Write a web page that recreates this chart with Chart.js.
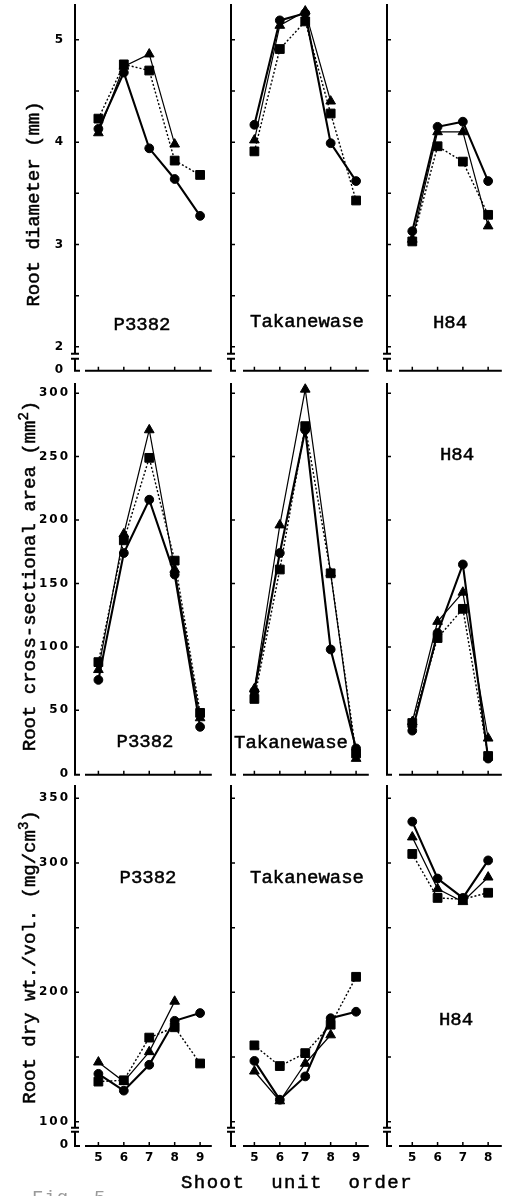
<!DOCTYPE html>
<html>
<head>
<meta charset="utf-8">
<script src="https://cdn.jsdelivr.net/npm/chart.js@4.4.0/dist/chart.umd.min.js"></script>
<style>
  html, body { margin: 0; padding: 0; background: #fff; }
  body { position: relative; width: 506px; height: 1196px; overflow: hidden; }
  canvas { position: absolute; }
  .t {
    position: absolute; font-family: "Liberation Mono", "DejaVu Sans Mono", monospace;
    font-size: 19px; line-height: 1; color: #000; white-space: pre;
    -webkit-text-stroke: 0.5px #000; transform: translate(-50%, -50%);
  }
  .yt { transform: translate(-50%, -50%) rotate(-90deg); }
  .t sup { font-size: 14px; vertical-align: 7px; line-height: 0; }
  .fig { color: #9a9a9a; -webkit-text-stroke: 0; transform: none; letter-spacing: 1px; }
</style>
</head>
<body>
<div id="wrap"></div>
<div class="t yt" style="left:34px; top:204px;">Root diameter (mm)</div>
<div class="t yt" style="left:30px; top:576px;">Root cross-sectional area (mm<sup>2</sup>)</div>
<div class="t yt" style="left:30px; top:957px;">Root dry wt./vol. (mg/cm<sup>3</sup>)</div>
<div class="t" style="left:297px; top:1183px; letter-spacing:1.5px;">Shoot  unit  order</div>
<div class="t fig" style="left:32px; top:1189px;">Fig. 5.</div>

<script>
// Shoot unit orders on the x axis
const shootOrder = [5, 6, 7, 8, 9];
const shootOrderH84 = [5, 6, 7, 8];
const cultivars = ['P3382', 'Takanewase', 'H84'];

// Root diameter (mm): circle, square, triangle series per cultivar
const diamP3382Circle   = [4.13, 4.68, 3.94, 3.64, 3.28];
const diamP3382Square   = [4.23, 4.76, 4.70, 3.82, 3.68];
const diamP3382Triangle = [4.09, 4.74, 4.86, 3.98, null];
const diamTakaCircle    = [4.17, 5.19, 5.26, 3.99, 3.62];
const diamTakaSquare    = [3.91, 4.91, 5.18, 4.28, 3.43];
const diamTakaTriangle  = [4.02, 5.14, 5.28, 4.40, null];
const diamH84Circle     = [3.13, 4.15, 4.20, 3.62];
const diamH84Square     = [3.03, 3.96, 3.81, 3.29];
const diamH84Triangle   = [3.05, 4.10, 4.10, 3.18];

// Root cross-sectional area (mm2)
const areaP3382Circle   = [74, 174, 216, 157, 37];
const areaP3382Square   = [88, 184, 249, 168, 48];
const areaP3382Triangle = [82, 189, 271, 161, 44];
const areaTakaCircle    = [65, 174, 271, 98, 20];
const areaTakaSquare    = [59, 161, 274, 158, 16];
const areaTakaTriangle  = [67, 196, 303, 158, 12];
const areaH84Circle     = [34, 111, 165, 12];
const areaH84Square     = [40, 107, 130, 14];
const areaH84Triangle   = [41, 120, 143, 28];

// Root dry weight per volume (mg/cm3)
const densP3382Circle   = [137, 124, 144, 178, 184];
const densP3382Square   = [131, 132, 165, 173, 145];
const densP3382Triangle = [146, 131, 154, 193, null];
const densTakaCircle    = [147, 117, 135, 180, 185];
const densTakaSquare    = [159, 143, 153, 175, 212];
const densTakaTriangle  = [139, 116, 145, 167, null];
const densH84Circle     = [332, 288, 273, 302];
const densH84Square     = [307, 273, 272, 277];
const densH84Triangle   = [320, 280, 270, 289];

// Y-axis ticks and their labels
const diamTicks  = [2, 2.5, 3, 3.5, 4, 4.5, 5];
const diamLabels = [2, 3, 4, 5];
const areaTicks  = [50, 100, 150, 200, 250, 300];
const areaLabels = [50, 100, 150, 200, 250, 300];
const densTicks  = [100, 150, 200, 250, 300, 350];
const densLabels = [100, 200, 300, 350];

// Page geometry of the 3 x 3 panel grid (pixels)
const cols = [
  { axisX: 75,  right: 215, xMin: 4.08, xMax: 9.46, gap: 10, padL: 60 },
  { axisX: 231, right: 372, xMin: 4.08, xMax: 9.50, gap: 12, padL: 12 },
  { axisX: 387, right: 505, xMin: 4.00, xMax: 8.54, gap: 12, padL: 12 }
];
const rows = [
  { top: 4,   bottom: 372,  yMin: 1.766, yMax: 5.35,  ticks: diamTicks, labels: diamLabels, breakAt: 2,    breakGap: [7, 12], labelGap: 12, padB: 6 },
  { top: 383, bottom: 776,  yMin: -0.8,  yMax: 308,   ticks: areaTicks, labels: areaLabels, breakAt: null, breakGap: null,    labelGap: 7,  padB: 6 },
  { top: 785, bottom: 1146, yMin: 81.2,  yMax: 360.3, ticks: densTicks, labels: densLabels, breakAt: 100,  breakGap: [6, 10], labelGap: 7,  padB: 26 }
];
const panelNames = [
  [{ x: 142, y: 325 }, { x: 307, y: 322 }, { x: 450, y: 323 }],
  [{ x: 145, y: 742 }, { x: 291, y: 743 }, { x: 457, y: 455 }],
  [{ x: 148, y: 878 }, { x: 307, y: 878 }, { x: 456, y: 1020 }]
];

const panelData = [
  [[diamP3382Circle, diamP3382Square, diamP3382Triangle],
   [diamTakaCircle, diamTakaSquare, diamTakaTriangle],
   [diamH84Circle, diamH84Square, diamH84Triangle]],
  [[areaP3382Circle, areaP3382Square, areaP3382Triangle],
   [areaTakaCircle, areaTakaSquare, areaTakaTriangle],
   [areaH84Circle, areaH84Square, areaH84Triangle]],
  [[densP3382Circle, densP3382Square, densP3382Triangle],
   [densTakaCircle, densTakaSquare, densTakaTriangle],
   [densH84Circle, densH84Square, densH84Triangle]]
];

const TICK_FONT = 'bold 12px "DejaVu Sans", sans-serif';

// Draws the broken y axis, the detached x axis, inward tick marks and tick labels
const axisFrame = {
  id: 'axisFrame',
  beforeDatasetsDraw(chart, args, o) {
    const { ctx, chartArea: a, scales: { x, y } } = chart;
    const ax = a.left, bot = a.bottom;
    ctx.save();
    ctx.strokeStyle = '#000';
    ctx.fillStyle = '#000';
    ctx.lineWidth = 2;
    ctx.beginPath();
    if (o.breakAt != null) {
      const yb = y.getPixelForValue(o.breakAt);
      const b1 = yb + o.breakGap[0], b2 = yb + o.breakGap[1];
      ctx.moveTo(ax, a.top); ctx.lineTo(ax, b1);
      ctx.moveTo(ax - 4, b1); ctx.lineTo(ax + 4, b1);
      ctx.moveTo(ax - 4, b2); ctx.lineTo(ax + 4, b2);
      ctx.moveTo(ax, b2); ctx.lineTo(ax, bot);
    } else {
      ctx.moveTo(ax, a.top); ctx.lineTo(ax, bot);
    }
    ctx.moveTo(ax - 1, bot); ctx.lineTo(ax + 5, bot);
    ctx.moveTo(ax + o.gap, bot); ctx.lineTo(a.right, bot);
    ctx.stroke();

    ctx.lineWidth = 1.5;
    ctx.beginPath();
    o.yTicks.forEach(v => {
      const py = y.getPixelForValue(v);
      ctx.moveTo(ax, py); ctx.lineTo(ax + 4, py);
    });
    o.xTicks.forEach(v => {
      const px = x.getPixelForValue(v);
      ctx.moveTo(px, bot); ctx.lineTo(px, bot - 4);
    });
    ctx.stroke();

    ctx.font = TICK_FONT;
    ctx.letterSpacing = '2px';
    if (o.showYLabels) {
      ctx.textAlign = 'right';
      ctx.textBaseline = 'middle';
      o.yLabels.forEach(v => ctx.fillText(String(v), ax - o.labelGap + 2, y.getPixelForValue(v)));
      ctx.fillText('0', ax - o.labelGap + 2, bot - 1);
    }
    if (o.showXLabels) {
      ctx.textAlign = 'center';
      ctx.textBaseline = 'middle';
      o.xTicks.forEach(v => ctx.fillText(String(v), x.getPixelForValue(v) + 1, bot + 12));
    }
    ctx.restore();
  }
};

function seriesSet(xs, circle, square, triangle) {
  const pts = arr => xs.map((x, i) => ({ x: x, y: arr[i] }));
  const common = {
    borderColor: '#000', backgroundColor: '#000',
    pointBackgroundColor: '#000', pointBorderColor: '#000',
    pointBorderWidth: 1, tension: 0, clip: false, spanGaps: false
  };
  return [
    Object.assign({ label: 'circle', data: pts(circle), pointStyle: 'circle', pointRadius: 4.4, borderWidth: 2.1, borderDash: [] }, common),
    Object.assign({ label: 'triangle', data: pts(triangle), pointStyle: 'triangle', pointRadius: 5.6, borderWidth: 1.2, borderDash: [] }, common),
    Object.assign({ label: 'square', data: pts(square), pointStyle: 'rect', pointRadius: 6.2, borderWidth: 1.4, borderDash: [2, 2] }, common)
  ];
}

const wrap = document.getElementById('wrap');
rows.forEach((row, r) => {
  cols.forEach((col, c) => {
    const left = col.axisX - col.padL;
    const top = row.top - 8;
    const width = col.right + 4 - left;
    const height = row.bottom + row.padB - top;
    const cv = document.createElement('canvas');
    cv.width = width; cv.height = height;
    cv.style.left = left + 'px'; cv.style.top = top + 'px';
    cv.style.width = width + 'px'; cv.style.height = height + 'px';
    wrap.appendChild(cv);

    const xs = c === 2 ? shootOrderH84 : shootOrder;
    const [circle, square, triangle] = panelData[r][c];
    new Chart(cv, {
      type: 'line',
      data: { datasets: seriesSet(xs, circle, square, triangle) },
      options: {
        responsive: false, animation: false, devicePixelRatio: 1,
        layout: { padding: { left: col.padL, top: 8, right: 4, bottom: row.padB } },
        plugins: {
          legend: { display: false }, tooltip: { enabled: false },
          axisFrame: {
            breakAt: row.breakAt, breakGap: row.breakGap, gap: col.gap,
            yTicks: row.ticks, yLabels: row.labels, xTicks: xs,
            showYLabels: c === 0, showXLabels: r === 2, labelGap: row.labelGap
          }
        },
        scales: {
          x: { type: 'linear', min: col.xMin, max: col.xMax, display: false },
          y: { type: 'linear', min: row.yMin, max: row.yMax, display: false }
        }
      },
      plugins: [axisFrame]
    });

    const lab = document.createElement('div');
    lab.className = 't';
    lab.textContent = cultivars[c];
    lab.style.left = panelNames[r][c].x + 'px';
    lab.style.top = panelNames[r][c].y + 'px';
    document.body.appendChild(lab);
  });
});
</script>
</body>
</html>
